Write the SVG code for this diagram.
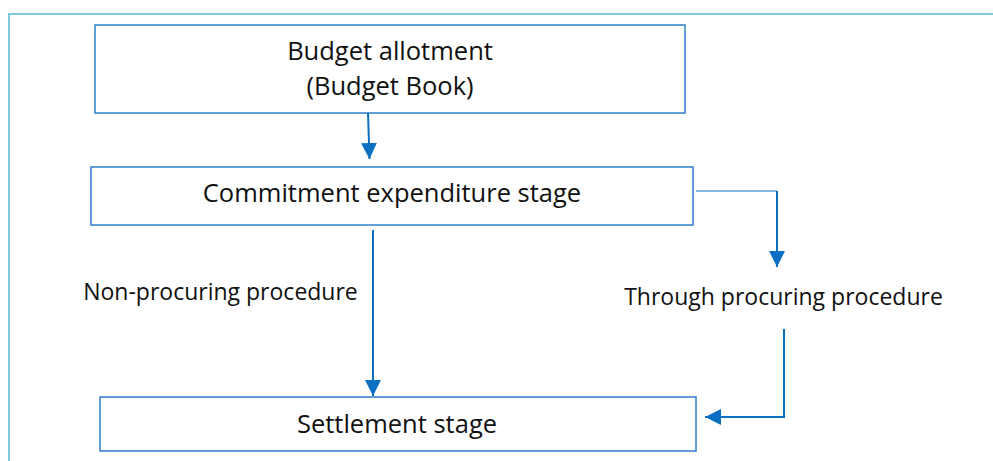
<svg xmlns="http://www.w3.org/2000/svg" width="993" height="461" viewBox="0 0 993 461">
<style>
.box{fill:#fff;stroke:#2f7fc8;stroke-width:1.5}
.t{font-family:"Open Sans","Liberation Sans",sans-serif;fill:#111;text-anchor:middle}
.big{font-size:25.5px}
.lbl{font-size:23px}
.c{fill:none;stroke:#0b6fc2}
</style>
<defs>
<marker id="ah2" viewBox="0 0 16 16" refX="16" refY="8" markerWidth="16" markerHeight="16" orient="auto" markerUnits="userSpaceOnUse">
<path d="M0,0 L16,8 L0,16 z" fill="#0b6fc2"/>
</marker>
</defs>
<g id="frame">
<path d="M9,461 L9,14 L993,14" fill="none" stroke="#7ecae2" stroke-width="2"/>
</g>
<g id="budget">
<rect class="box" x="95" y="25" width="590" height="88"/>
<text class="t big" x="390" y="60">Budget allotment</text>
<text class="t big" x="390" y="95">(Budget Book)</text>
</g>
<g id="commitment">
<rect class="box" x="91" y="167" width="602" height="58"/>
<text class="t big" x="392" y="202">Commitment expenditure stage</text>
</g>
<g id="settlement">
<rect class="box" x="100" y="397" width="596" height="54"/>
<text class="t big" x="397" y="433">Settlement stage</text>
</g>
<g id="labels">
<text class="t lbl" x="220.5" y="300">Non-procuring procedure</text>
<text class="t lbl" x="783.5" y="305">Through procuring procedure</text>
</g>
<g id="connectors">
<path class="c" stroke-width="2" d="M368,113 L369.5,159" marker-end="url(#ah2)"/>
<path class="c" stroke-width="1.2" d="M696,191 L777,191"/>
<path class="c" stroke-width="2" d="M777,191 L777,267" marker-end="url(#ah2)"/>
<path class="c" stroke-width="2" d="M373,230 L373,396" marker-end="url(#ah2)"/>
<path class="c" stroke-width="2" d="M784,329 L784,417 L705,417" marker-end="url(#ah2)"/>
</g>
</svg>
